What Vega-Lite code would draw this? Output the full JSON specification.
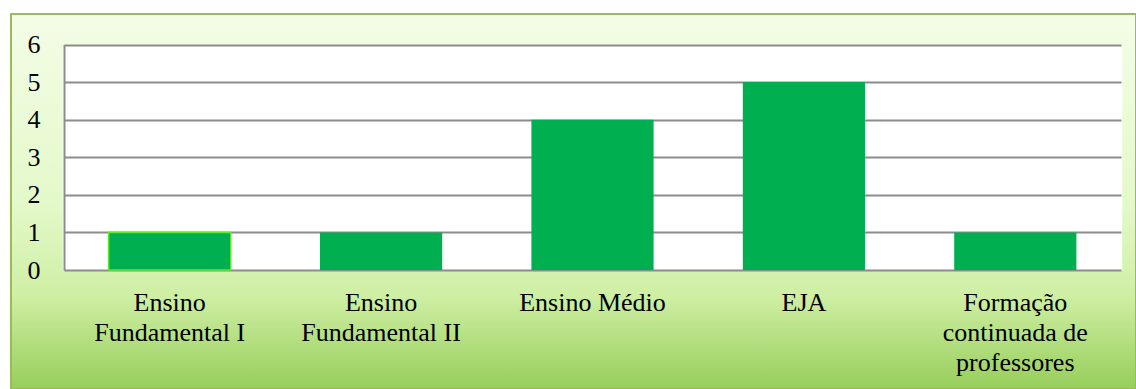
{
  "$schema": "https://vega.github.io/schema/vega-lite/v6.json",
  "width": 1125,
  "height": 375,
  "autosize": {"type": "none"},
  "padding": {"left": 11, "top": 14, "right": 0, "bottom": 0},
  "background": "white",
  "config": {
    "font": "'Liberation Serif', 'Times New Roman', serif",
    "view": {
      "fill": {
        "gradient": "linear",
        "x1": 0, "y1": 0, "x2": 0, "y2": 1,
        "stops": [
          {"offset": 0, "color": "#F3FDE6"},
          {"offset": 0.5, "color": "#E4F9CA"},
          {"offset": 0.75, "color": "#CFEFA4"},
          {"offset": 1, "color": "#97CE5B"}
        ]
      },
      "stroke": "#9BBB59",
      "strokeWidth": 2
    }
  },
  "data": {
    "values": [
      {"categoria": "Ensino Fundamental I", "valor": 1},
      {"categoria": "Ensino Fundamental II", "valor": 1},
      {"categoria": "Ensino Médio", "valor": 4},
      {"categoria": "EJA", "valor": 5},
      {"categoria": "Formação continuada de professores", "valor": 1}
    ]
  },
  "mark": {"type": "bar", "width": {"band": 0.578}, "color": "#00B050", "strokeWidth": 1.5},
  "encoding": {
    "x": {
      "field": "categoria",
      "type": "nominal",
      "sort": null,
      "scale": {"range": [53, 1110], "paddingInner": 0, "paddingOuter": 0},
      "axis": {
        "title": null,
        "orient": "top",
        "offset": -256,
        "bandPosition": 0.5,
        "domain": false,
        "ticks": false,
        "tickSize": 0,
        "grid": true,
        "gridColor": "#FFFFFF",
        "gridWidth": 213.5,
        "gridOpacity": 1,
        "labelAngle": 0,
        "labelPadding": -19,
        "labelBaseline": "top",
        "labelAlign": "center",
        "labelFontSize": 26,
        "labelColor": "#000000",
        "labelLineHeight": 30,
        "labelFont": "'Liberation Serif', 'Times New Roman', serif",
        "labelLimit": 0,
        "labelOverlap": false,
        "labelExpr": "datum.value == 'Formação continuada de professores' ? ['Formação', 'continuada de', 'professores'] : indexof(datum.value, 'Fundamental') >= 0 ? ['Ensino', slice(datum.value, 7)] : datum.value"
      }
    },
    "y": {
      "field": "valor",
      "type": "quantitative",
      "scale": {"domain": [0, 6], "range": [256, 30.5], "nice": false},
      "axis": {
        "title": null,
        "offset": -53,
        "values": [0, 1, 2, 3, 4, 5, 6],
        "format": "d",
        "domain": true,
        "domainColor": "#8C8C8C",
        "domainWidth": 2,
        "ticks": false,
        "tickSize": 0,
        "grid": true,
        "gridColor": "#8C8C8C",
        "gridWidth": 2,
        "gridOpacity": 1,
        "labelPadding": 24,
        "labelFontSize": 26,
        "labelColor": "#000000",
        "labelFont": "'Liberation Serif', 'Times New Roman', serif",
        "labelBaseline": "middle"
      }
    },
    "stroke": {
      "condition": {"test": "datum.categoria === 'Ensino Fundamental I'", "value": "#5EE830"},
      "value": null
    }
  }
}
